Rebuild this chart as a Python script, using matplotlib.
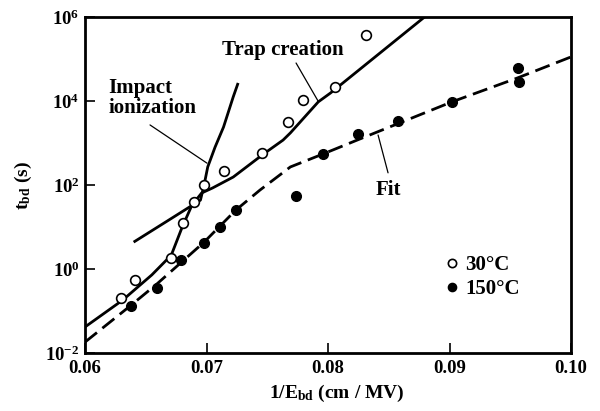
import numpy as np
import matplotlib
matplotlib.use("Agg")
import matplotlib.pyplot as plt

plt.rcParams['font.family'] = ['Liberation Serif', 'DejaVu Serif']
plt.rcParams['font.weight'] = 'bold'
plt.rcParams['axes.labelweight'] = 'bold'
plt.rcParams['mathtext.fontset'] = 'custom'
plt.rcParams['mathtext.rm'] = 'Liberation Serif:bold'
plt.rcParams['mathtext.it'] = 'Liberation Serif:italic:bold'
plt.rcParams['mathtext.bf'] = 'Liberation Serif:bold'

# measured points, 30 C (open) and 150 C (filled)
x_30 = [0.0630, 0.0641, 0.0671, 0.0681, 0.0690, 0.0698, 0.0714, 0.0746, 0.0767, 0.0779, 0.0806, 0.0831]
log_t_30 = [-0.69, -0.26, 0.26, 1.10, 1.60, 2.00, 2.33, 2.76, 3.50, 4.02, 4.33, 5.57]

x_150 = [0.0638, 0.0659, 0.0679, 0.0698, 0.0711, 0.0724, 0.0774, 0.0796, 0.0825, 0.0858, 0.0902, 0.0956, 0.0957]
log_t_150 = [-0.88, -0.45, 0.21, 0.62, 1.00, 1.40, 1.74, 2.74, 3.21, 3.52, 3.98, 4.79, 4.45]

# model curves
x_trap = [0.0600, 0.0631, 0.0655, 0.0671, 0.0680, 0.0688, 0.0696, 0.0705, 0.0722, 0.0747, 0.0763,
          0.0769, 0.0792, 0.0802, 0.0882]
log_t_trap = [-1.38, -0.74, -0.14, 0.33, 1.00, 1.52, 1.81, 1.93, 2.19, 2.74, 3.07, 3.24, 3.98, 4.19, 6.06]

x_impact = [0.0640, 0.0667, 0.0695, 0.0698, 0.0701, 0.0707, 0.0714, 0.0722, 0.0726]
log_t_impact = [0.64, 1.13, 1.64, 2.00, 2.43, 2.90, 3.38, 4.10, 4.43]

x_fit = [0.0600, 0.0638, 0.0659, 0.0698, 0.0724, 0.0744, 0.0769, 0.0796, 0.0824, 0.0902, 0.0956, 0.1000]
log_t_fit = [-1.74, -0.86, -0.36, 0.64, 1.40, 1.88, 2.43, 2.74, 3.07, 3.98, 4.55, 5.05]

fig = plt.figure(figsize=(6.0, 4.11), dpi=100)
ax = fig.add_axes([0.1417, 0.1411, 0.81, 0.8175])

ax.plot(x_trap, 10 ** np.array(log_t_trap), color='black', lw=2.0, solid_capstyle='butt')
ax.plot(x_impact, 10 ** np.array(log_t_impact), color='black', lw=2.0, solid_capstyle='butt')
ax.plot(x_fit, 10 ** np.array(log_t_fit), color='black', lw=2.0, linestyle=(0, (5.5, 2.5)))

ax.plot(x_30, 10 ** np.array(log_t_30), 'o', ms=7, mfc='white', mec='black', mew=1.2,
        label='30°C', zorder=5)
ax.plot(x_150, 10 ** np.array(log_t_150), 'o', ms=7, mfc='black', mec='black',
        label='150°C', zorder=5)

ax.set_yscale('log')
ax.set_xlim(0.06, 0.10)
ax.set_ylim(1e-2, 1e6)
ax.set_xticks([0.06, 0.07, 0.08, 0.09, 0.10])
ax.set_xticklabels(['0.06', '0.07', '0.08', '0.09', '0.10'])
ax.set_yticks([1e-2, 1e0, 1e2, 1e4, 1e6])
ax.minorticks_off()
ax.tick_params(direction='in', length=7, width=1.2, labelsize=13.5, pad=4)
ax.tick_params(axis='x', pad=5)

for s in ax.spines.values():
    s.set_linewidth(2.0)

ax.set_xlabel('1/E$_{\\mathrm{bd}}$ (cm / MV)', fontsize=14)
ax.xaxis.set_label_coords(0.518, -0.09)
ax.set_ylabel('t$_{\\mathrm{bd}}$ (s)', fontsize=14)
ax.yaxis.set_label_coords(-0.105, 0.5)

# annotations with leader lines
ax.text(0.0763, 10 ** 5.21, 'Trap creation', fontsize=15, ha='center', va='center')
ax.annotate('', xy=(0.07918, 10 ** 4.0), xytext=(0.07737, 10 ** 4.905),
            arrowprops=dict(arrowstyle='-', lw=0.9, color='black', shrinkA=0, shrinkB=0))

ax.text(0.0619, 10 ** 4.07, 'Impact\nionization', fontsize=15, ha='left', va='center',
        linespacing=1.0)
ax.annotate('', xy=(0.07004, 10 ** 2.52), xytext=(0.06535, 10 ** 3.43),
            arrowprops=dict(arrowstyle='-', lw=0.9, color='black', shrinkA=0, shrinkB=0))

ax.text(0.0850, 10 ** 1.88, 'Fit', fontsize=15, ha='center', va='center')
ax.annotate('', xy=(0.08494, 10 ** 2.29), xytext=(0.08412, 10 ** 3.19),
            arrowprops=dict(arrowstyle='-', lw=0.9, color='black', shrinkA=0, shrinkB=0))

ax.legend(loc='center left', bbox_to_anchor=(0.72, 0.225), frameon=False, fontsize=15,
          handlelength=0.6, handletextpad=0.35, labelspacing=0.2, borderpad=0,
          markerscale=0.85)

fig.savefig('out.png', dpi=100)
